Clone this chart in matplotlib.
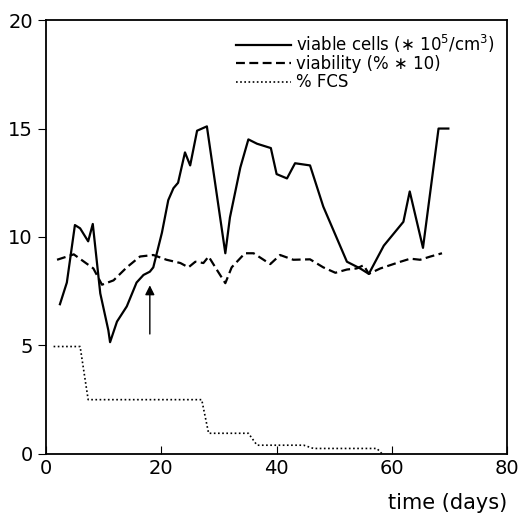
import matplotlib
matplotlib.use('Agg')
import matplotlib.pyplot as plt

# viable cells (x 10^5 / cm^3)
cells_t = [2.4, 3.6, 5.0, 5.9, 7.3, 8.1, 9.4, 10.8, 11.1, 12.3, 14.0, 15.7, 16.9, 18.0, 18.6,
           20.1, 21.2, 22.1, 22.9, 24.1, 25.0, 26.2, 27.9, 31.1, 31.9, 33.7, 35.1, 36.6,
           39.0, 40.0, 41.8, 43.2, 45.8, 48.1, 52.2, 54.5, 56.0, 58.6, 62.0, 63.1, 65.4,
           68.1, 69.8]
cells_v = [6.9, 7.9, 10.55, 10.4, 9.8, 10.6, 7.4, 5.7, 5.15, 6.1, 6.8, 7.9, 8.25, 8.4, 8.6,
           10.2, 11.7, 12.25, 12.5, 13.9, 13.3, 14.9, 15.1, 9.25, 10.9, 13.2, 14.5, 14.3,
           14.1, 12.9, 12.7, 13.4, 13.3, 11.4, 8.86, 8.55, 8.3, 9.6, 10.7, 12.1, 9.5,
           15.0, 15.0]

# viability (% x 10)
via_t = [1.9, 4.8, 8.2, 9.7, 11.7, 14.0, 16.3, 18.6, 20.9, 23.3, 24.7, 25.9, 27.3, 28.2,
         29.6, 31.1, 32.2, 34.5, 36.0, 38.9, 40.6, 42.9, 45.8, 48.1, 50.2, 52.2, 53.9,
         55.1, 56.0, 58.0, 61.5, 63.2, 64.9, 66.7, 68.7]
via_v = [8.95, 9.2, 8.55, 7.8, 8.0, 8.6, 9.1, 9.17, 8.95, 8.8, 8.6, 8.86, 8.8, 9.1,
         8.5, 7.87, 8.6, 9.25, 9.25, 8.75, 9.17, 8.95, 8.97, 8.6, 8.35, 8.5, 8.55,
         8.7, 8.3, 8.55, 8.86, 9.0, 8.95, 9.1, 9.25]

# % FCS
fcs_t = [1.3, 5.9, 7.3, 27.0, 28.2, 35.1, 36.6, 44.7, 46.4, 57.4, 58.3]
fcs_v = [4.95, 4.95, 2.5, 2.5, 0.95, 0.95, 0.4, 0.4, 0.25, 0.25, 0.0]

plt.rcParams['font.family'] = ['DejaVu Sans']
fig = plt.figure(figsize=(5.18, 5.29), dpi=100)
ax = fig.add_axes([0.089, 0.142, 0.89, 0.82])

ax.plot(cells_t, cells_v, color='black', lw=1.6, label='viable cells (∗ 10$^5$/cm$^3$)')
ax.plot(via_t, via_v, color='black', lw=1.6, ls=(0, (4, 2)), label='viability (% ∗ 10)')
ax.plot(fcs_t, fcs_v, color='black', lw=1.2, ls=(0, (1, 1.5)), label='% FCS')

ax.annotate('', xy=(18.0, 7.9), xytext=(18.0, 5.4),
            arrowprops=dict(arrowstyle='-|>', color='black', lw=1, mutation_scale=14))

ax.set_xlim(0, 80)
ax.set_ylim(0, 20)
ax.set_xticks([0, 20, 40, 60, 80])
ax.set_yticks([0, 5, 10, 15, 20])
ax.tick_params(axis='x', direction='in', length=6, labelsize=14, pad=4)
ax.tick_params(axis='y', direction='out', length=6, labelsize=14)
for s in ax.spines.values():
    s.set_linewidth(1.3)

ax.text(1.0, -0.09, 'time (days)', transform=ax.transAxes, ha='right', va='top', fontsize=15)

ax.legend(loc='upper right', frameon=False, fontsize=12, handlelength=3.3,
          handletextpad=0.3, labelspacing=0.02, borderaxespad=0.35)

fig.savefig('out.png', dpi=100)
